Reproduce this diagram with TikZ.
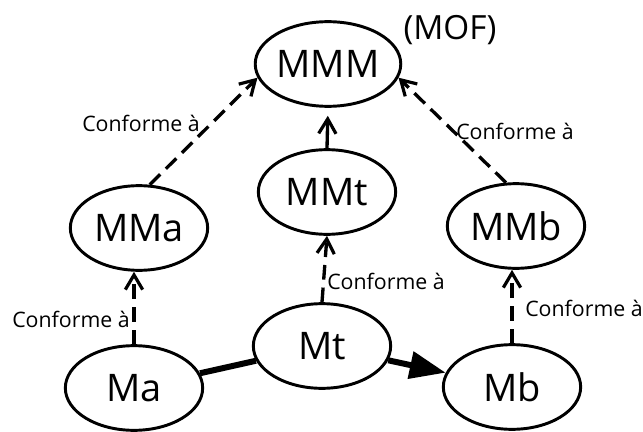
\documentclass[tikz,border=0pt]{standalone}
\usepackage{fontspec}
\setmainfont{Open Sans}
\usetikzlibrary{arrows.meta,shapes.geometric}
\begin{document}
\begin{tikzpicture}[x=0.75pt,y=-0.75pt,
  model/.style={ellipse, draw, line width=2.2pt, minimum width=103pt, minimum height=63.5pt, inner sep=0pt, font=\fontsize{28.5}{30}\selectfont},
  conf/.style={line width=2.5pt, dash pattern=on 11pt off 6pt, -{Straight Barb[length=11pt,width=13pt,line width=2.4pt]}},
  lbl/.style={font=\fontsize{16}{18}\selectfont, inner sep=0pt},
  flow/.style={line width=4.5pt}]
\useasboundingbox (0,0) rectangle (643,432);
\node[model] (mmm) at (328,64) {MMM};
\node[font=\fontsize{25}{27}\selectfont, inner sep=0pt] (mof) at (450,30) {(MOF)};
\node[model] (mma) at (139,228) {MMa};
\node[model] (mmt) at (327,192) {MMt};
\node[model] (mmb) at (516,226) {MMb};
\node[model] (ma) at (134,388) {Ma};
\node[model] (mt) at (322,346) {Mt};
\node[model] (mb) at (512,387) {Mb};

\draw[conf] (mma.76) -- (mmm.191);
\draw[conf] (mmb.103) -- (mmm.349);
\draw[conf, solid, shorten >=6pt] (mmt.north) -- (mmm.south);
\draw[conf] (mt.north) -- (mmt.south);
\draw[conf] (ma.north) -- (ma.north |- mma.south);
\draw[conf] (mb.north) -- (mb.north |- mmb.south);

\draw[flow] (ma) -- (mt);
\draw[flow, -{Triangle[length=27pt,width=20pt]}] (mt) -- (mb);

\node[lbl] (c1) at (141,123) {Conforme à};
\node[lbl] (c2) at (515,131) {Conforme à};
\node[lbl] (c3) at (386,281) {Conforme à};
\node[lbl] (c4) at (71,319) {Conforme à};
\node[lbl] (c5) at (584,308) {Conforme à};
\end{tikzpicture}
\end{document}
